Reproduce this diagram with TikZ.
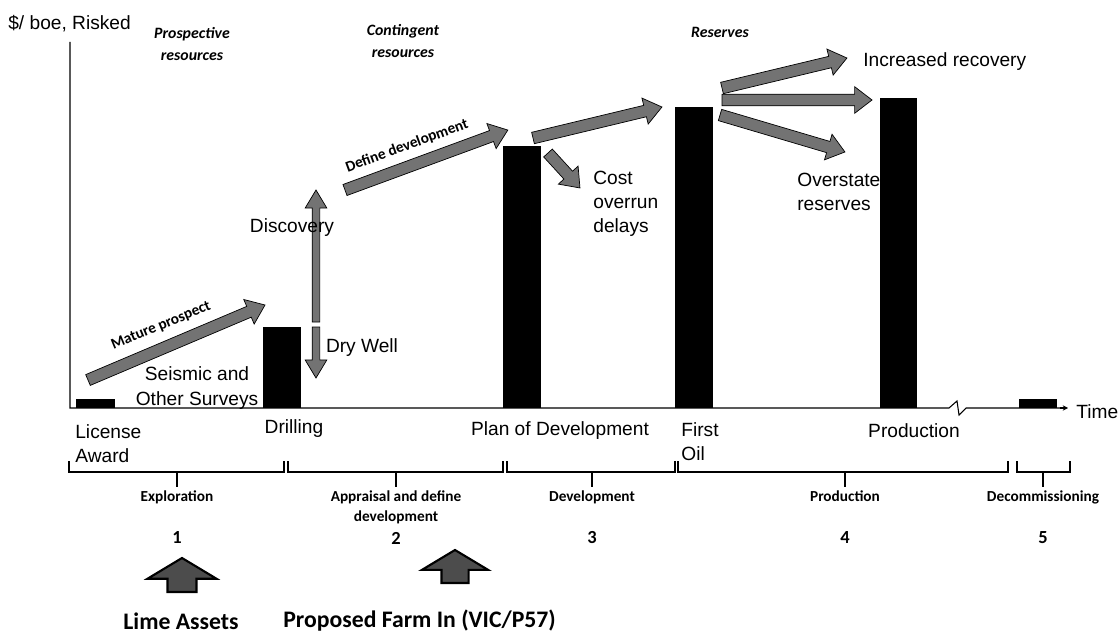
\documentclass[tikz,border=0pt]{standalone}
\usepackage{fontspec}
\setmainfont{Liberation Sans}
\newfontfamily\calib{Carlito}
\usetikzlibrary{calc,shapes.arrows,arrows.meta}

\tikzset{
  barfill/.style={fill=black},
  axisline/.style={line width=0.6pt},
  bracepath/.style={line width=0.7pt},
  lbl/.style={font=\fontsize{10.9}{13.8}\selectfont, inner sep=0pt},
  phase/.style={font=\calib\bfseries\fontsize{8.7}{11.5}\selectfont, inner sep=0pt, align=center},
  stage/.style={font=\calib\bfseries\itshape\fontsize{9}{12.5}\selectfont, inner sep=0pt, align=center},
  numlbl/.style={font=\calib\bfseries\fontsize{10.5}{12}\selectfont, inner sep=0pt},
  bigbold/.style={font=\calib\bfseries\fontsize{13.5}{15}\selectfont, inner sep=0pt},
  fatarr/.style={single arrow, draw=black, fill=black!55, line width=0.4pt,
    inner xsep=0pt, inner ysep=0.11cm, single arrow head extend=0.15cm,
    single arrow tip angle=75, minimum width=0pt, outer sep=0pt},
  thinarr/.style={inner ysep=0.07cm, single arrow head extend=0.14cm, single arrow tip angle=62},
  blockarr/.style={fill=black!70, line width=1.2pt, inner ysep=0.27cm,
    single arrow head extend=0.4cm, single arrow tip angle=118}
}

% gray block arrow from one coordinate to another
\newcommand{\grayarrow}[3][]{%
  \path let \p1=($(#3)-(#2)$), \n1={veclen(\x1,\y1)}, \n2={atan2(\y1,\x1)} in
    node[fatarr, #1, minimum height=\n1, rotate=\n2, anchor=tail] at (#2) {};}

\begin{document}
\begin{tikzpicture}[x=0.02cm, y=-0.02cm]
\useasboundingbox (0,0) rectangle (1120,635);

% =========================
% AXES
% =========================
\draw[axisline] (70,42) -- (70,408) -- (949,408) -- (957,401) -- (959,415) -- (966,408) -- (1062,408);
\draw[axisline, -{Stealth[length=3pt, width=3pt]}] (1060,408) -- (1068,408);
\node[lbl, anchor=west] (ylab) at (8,24) {\$/ boe, Risked};
\node[lbl, anchor=west] (time) at (1076,412) {Time};

% resource classes
\node[stage] (prosp) at (192,44) {Prospective\\resources};
\node[stage] (cont) at (403,41) {Contingent\\resources};
\node[stage] (resv) at (720,32) {Reserves};

% =========================
% BARS
% =========================
\fill[barfill] (76,399) rectangle (115,408);
\fill[barfill] (263,327) rectangle (301,408);
\fill[barfill] (503,146) rectangle (541,408);
\fill[barfill] (675,107) rectangle (713,408);
\fill[barfill] (880,98) rectangle (917,408);
\fill[barfill] (1019,399) rectangle (1057,408);

% =========================
% VALUE ARROWS
% =========================
\coordinate (mat1) at (88,380);   \coordinate (mat2) at (265,305);
\coordinate (disc1) at (316,322); \coordinate (disc2) at (316,190);
\coordinate (dry1) at (316,327);  \coordinate (dry2) at (316,378);
\coordinate (def1) at (345,190);  \coordinate (def2) at (508,130);
\coordinate (pod1) at (533,138);  \coordinate (pod2) at (662,107);
\coordinate (cost1) at (548,153); \coordinate (cost2) at (580,188);
\coordinate (inc1) at (722,88);   \coordinate (inc2) at (847,58);
\coordinate (mid1) at (722,100);  \coordinate (mid2) at (872,100);
\coordinate (ovr1) at (720,115);  \coordinate (ovr2) at (845,152);

\grayarrow[name=matarr]{mat1}{mat2}
\grayarrow[thinarr, name=discarr]{disc1}{disc2}
\grayarrow[thinarr, name=dryarr]{dry1}{dry2}
\grayarrow[name=defarr]{def1}{def2}
\grayarrow[name=podarr]{pod1}{pod2}
\grayarrow[name=costarr]{cost1}{cost2}
\grayarrow[name=incarr]{inc1}{inc2}
\grayarrow[name=midarr]{mid1}{mid2}
\grayarrow[name=ovrarr]{ovr1}{ovr2}

\node[phase, rotate=22.6] (matlab) at (161,326) {Mature prospect};
\node[phase, rotate=20.2] (deflab) at (407,146) {Define development};

% =========================
% LABELS
% =========================
\node[lbl, align=center] (seis) at (197,388) {Seismic and\\Other Surveys};
\node[lbl] (disc) at (292,228) {Discovery};
\node[lbl] (dry) at (362,348) {Dry Well};
\node[lbl, anchor=west, align=left] (cost) at (593,204) {Cost\\overrun\\delays};
\node[lbl, anchor=west] (incr) at (863,62) {Increased recovery};
\node[lbl, anchor=west, align=left] (over) at (797,192) {Overstate\\reserves};

\node[lbl, anchor=west, align=left] (lic) at (75,444) {License\\Award};
\node[lbl] (drill) at (294,429) {Drilling};
\node[lbl] (pod) at (560,431) {Plan of Development};
\node[lbl, anchor=west, align=left] (fo) at (681,442) {First\\Oil};
\node[lbl] (prod) at (914,431) {Production};

% =========================
% PHASE BRACES
% =========================
\foreach \xa/\xb/\xc/\lab/\num in {69/284/177/Exploration/1,
    288/503/396/{Appraisal and define\\development}/2,
    507/675/592/Development/3, 678/1008/845/Production/4,
    1017/1070/1043/Decommissioning/5}{
  \draw[bracepath] (\xa,461) |- (\xb,472) -- (\xb,461);
  \draw[bracepath] (\xc,472) -- (\xc,487);
  \node[phase, anchor=north] (ph\num) at (\xc,490) {\lab};
  \node[numlbl] (n\num) at (\xc,538) {\num};
}

% =========================
% ASSET MARKERS
% =========================
\coordinate (lim1) at (182,592);  \coordinate (lim2) at (182,558);
\coordinate (farm1) at (455,583); \coordinate (farm2) at (455,550);
\grayarrow[blockarr, name=limarr]{lim1}{lim2}
\grayarrow[blockarr, inner ysep=0.25cm, single arrow head extend=0.39cm, name=farmarr]{farm1}{farm2}

\node[bigbold] (lime) at (181,621) {Lime Assets};
\node[bigbold, anchor=west] (farm) at (283,621) {Proposed Farm In (VIC/P57)};

\end{tikzpicture}
\end{document}
